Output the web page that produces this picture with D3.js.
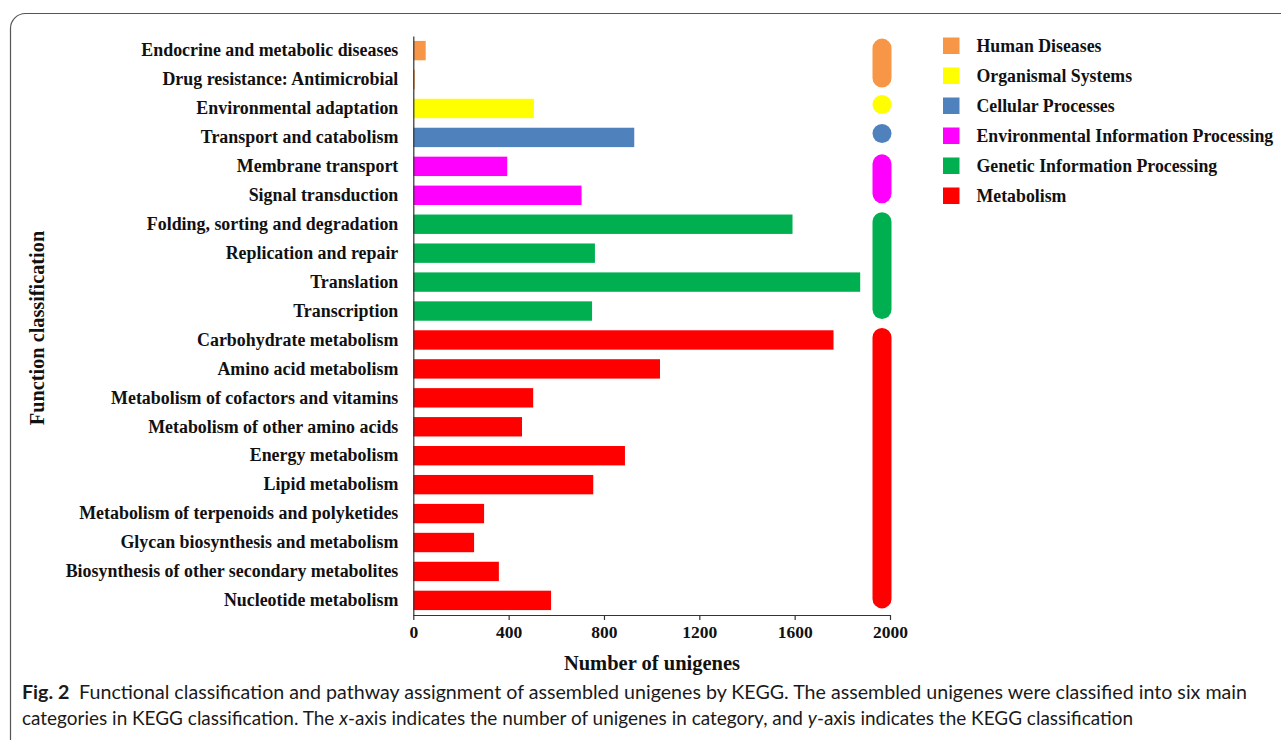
<!DOCTYPE html>
<html>
<head>
<meta charset="utf-8">
<script src="https://cdn.jsdelivr.net/npm/d3@7"></script>
<style>
  html, body { margin: 0; padding: 0; background: #fff; }
  svg { display: block; }
</style>
</head>
<body>
<svg id="chart" width="1281" height="740"></svg>
<script>
// KEGG pathway classes (top to bottom) and unigene counts
const categories = [
  "Endocrine and metabolic diseases",
  "Drug resistance: Antimicrobial",
  "Environmental adaptation",
  "Transport and catabolism",
  "Membrane transport",
  "Signal transduction",
  "Folding, sorting and degradation",
  "Replication and repair",
  "Translation",
  "Transcription",
  "Carbohydrate metabolism",
  "Amino acid metabolism",
  "Metabolism of cofactors and vitamins",
  "Metabolism of other amino acids",
  "Energy metabolism",
  "Lipid metabolism",
  "Metabolism of terpenoids and polyketides",
  "Glycan biosynthesis and metabolism",
  "Biosynthesis of other secondary metabolites",
  "Nucleotide metabolism"
];
const counts = [52, 6, 506, 927, 394, 706, 1591, 762, 1875, 750,
                1763, 1035, 503, 456, 888, 755, 297, 255, 359, 578];
// main KEGG group of each class
const groupOf = [
  "Human Diseases", "Human Diseases",
  "Organismal Systems",
  "Cellular Processes",
  "Environmental Information Processing", "Environmental Information Processing",
  "Genetic Information Processing", "Genetic Information Processing",
  "Genetic Information Processing", "Genetic Information Processing",
  "Metabolism", "Metabolism", "Metabolism", "Metabolism", "Metabolism",
  "Metabolism", "Metabolism", "Metabolism", "Metabolism", "Metabolism"
];
const groups = ["Human Diseases", "Organismal Systems", "Cellular Processes",
  "Environmental Information Processing", "Genetic Information Processing", "Metabolism"];
const groupColors = ["#F79646", "#FFFF00", "#4F81BD", "#FF00FF", "#00B050", "#FF0000"];
const xTicks = [0, 400, 800, 1200, 1600, 2000];

const svg = d3.select("#chart");
const serif = "'Liberation Serif', 'Times New Roman', serif";

// frame around figure
svg.append("rect")
  .attr("x", 10.5).attr("y", 13.5)
  .attr("width", 1320).attr("height", 760)
  .attr("rx", 15).attr("ry", 15)
  .attr("fill", "none").attr("stroke", "#555").attr("stroke-width", 1.2);

const color = d3.scaleOrdinal().domain(groups).range(groupColors);

const x = d3.scaleLinear().domain([0, 2000]).range([413.3, 890]);
const y = d3.scaleBand().domain(categories).range([36, 615]).paddingInner(0.33).paddingOuter(0.17);

// bars
svg.append("g").selectAll("rect")
  .data(categories)
  .join("rect")
  .attr("x", x(0))
  .attr("y", d => y(d))
  .attr("width", (d, i) => x(counts[i]) - x(0))
  .attr("height", y.bandwidth())
  .attr("fill", (d, i) => color(groupOf[i]));

// x axis
const xAxis = svg.append("g")
  .attr("transform", `translate(0,615)`)
  .call(d3.axisBottom(x).tickValues(xTicks).tickFormat(d3.format("d"))
    .tickSize(5).tickSizeOuter(0).tickPadding(6));
xAxis.select(".domain").attr("stroke", "#333").attr("stroke-width", 1.2);
xAxis.selectAll(".tick line").attr("stroke", "#333").attr("stroke-width", 1.2);
xAxis.selectAll(".tick text")
  .attr("font-family", serif).attr("font-weight", "bold").attr("font-size", 17.5).attr("fill", "#111");

// y axis (line and labels only)
const yAxis = svg.append("g")
  .attr("transform", `translate(${x(0)},0)`)
  .call(d3.axisLeft(y).tickSize(0).tickPadding(15));
yAxis.select(".domain").attr("stroke", "#333").attr("stroke-width", 1.2);
yAxis.selectAll(".tick text")
  .attr("font-family", serif).attr("font-weight", "bold").attr("font-size", 17.9).attr("fill", "#111");

// axis titles
svg.append("text")
  .attr("x", 652).attr("y", 670)
  .attr("text-anchor", "middle")
  .attr("font-family", serif).attr("font-weight", "bold").attr("font-size", 20.5).attr("fill", "#111")
  .text("Number of unigenes");
svg.append("text")
  .attr("transform", "translate(44,328) rotate(-90)")
  .attr("text-anchor", "middle")
  .attr("font-family", serif).attr("font-weight", "bold").attr("font-size", 20.3).attr("fill", "#111")
  .text("Function classification");

// group brackets: a rounded pill spanning each group's classes
const pillX = 882, pillW = 19;
const spans = groups.map(g => {
  const idx = groupOf.map((v, i) => v === g ? i : -1).filter(i => i >= 0);
  const first = categories[idx[0]], last = categories[idx[idx.length - 1]];
  return { g, n: idx.length, top: y(first) + y.bandwidth() / 2, bottom: y(last) + y.bandwidth() / 2 };
});
svg.append("g").selectAll("rect")
  .data(spans)
  .join("rect")
  .attr("x", pillX - pillW / 2)
  .attr("y", d => d.n === 1 ? d.top - pillW / 2 - 4 : d.top - 12)
  .attr("width", pillW)
  .attr("height", d => d.n === 1 ? pillW : d.bottom - d.top + 20)
  .attr("rx", pillW / 2).attr("ry", pillW / 2)
  .attr("fill", d => color(d.g));

// legend
const legend = svg.append("g").attr("transform", "translate(943,46)");
const item = legend.selectAll("g")
  .data(groups)
  .join("g")
  .attr("transform", (d, i) => `translate(0,${i * 30})`);
item.append("rect")
  .attr("x", 0).attr("y", -8.5).attr("width", 16.5).attr("height", 16.5)
  .attr("fill", d => color(d));
item.append("text")
  .attr("x", 33.5).attr("y", 6)
  .attr("font-family", serif).attr("font-weight", "bold").attr("font-size", 17.8).attr("fill", "#111")
  .text(d => d);

// caption
const capFont = "Lato, 'Open Sans', sans-serif";
const cap1 = svg.append("text")
  .attr("x", 22).attr("y", 699)
  .attr("font-family", capFont).attr("font-size", 18.5).attr("fill", "#1a1a1a")
  .attr("textLength", 1225).attr("lengthAdjust", "spacingAndGlyphs");
cap1.append("tspan").attr("font-weight", "bold").text("Fig. 2");
cap1.append("tspan").text("\u2002Functional classification and pathway assignment of assembled unigenes by KEGG. The assembled unigenes were classified into six main");
const cap2 = svg.append("text")
  .attr("x", 22).attr("y", 725)
  .attr("font-family", capFont).attr("font-size", 18.5).attr("fill", "#1a1a1a")
  .attr("textLength", 1111).attr("lengthAdjust", "spacingAndGlyphs");
cap2.append("tspan").text("categories in KEGG classification. The ");
cap2.append("tspan").attr("font-style", "italic").text("x");
cap2.append("tspan").text("-axis indicates the number of unigenes in category, and ");
cap2.append("tspan").attr("font-style", "italic").text("y");
cap2.append("tspan").text("-axis indicates the KEGG classification");
</script>
</body>
</html>
